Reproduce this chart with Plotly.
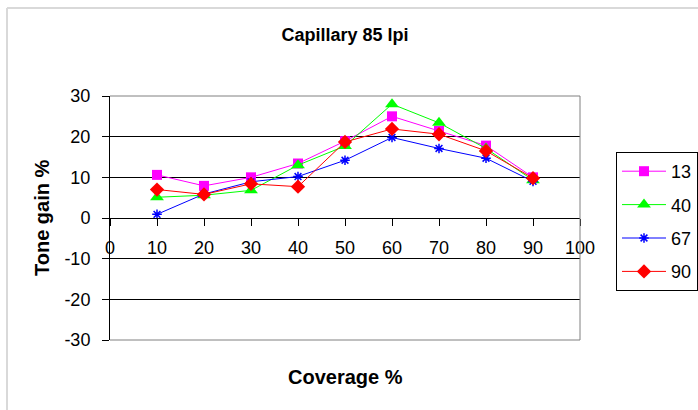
import plotly.graph_objects as go

coverage = [10, 20, 30, 40, 50, 60, 70, 80, 90]
series_names = ["13", "40", "67", "90"]
s13 = [10.6, 7.9, 10.0, 13.4, 18.9, 25.0, 21.4, 17.8, 10.0]
s40 = [5.1, 5.6, 6.8, 13.0, 17.7, 28.0, 23.4, 17.1, 9.3]
s67 = [0.9, 5.9, 8.9, 10.2, 14.2, 19.8, 17.1, 14.7, 9.0]
s90 = [7.0, 5.8, 8.4, 7.7, 18.7, 21.9, 20.6, 16.5, 9.8]
x_ticks = [0, 10, 20, 30, 40, 50, 60, 70, 80, 90, 100]
y_ticks = [-30, -20, -10, 0, 10, 20, 30]

colors = ["#ff00ff", "#00ff00", "#0000ff", "#ff0000"]
symbols = ["square", "triangle-up", "asterisk", "diamond"]
sizes = [10, 12, 8, 11]
values = [s13, s40, s67, s90]

FONT = "Liberation Sans, Arial, sans-serif"

W, H = 698, 410
L, R, T, B = 110, 580, 96, 340  # plot area in pixels

fig = go.Figure()
for name, vals, c, sym, sz in zip(series_names, values, colors, symbols, sizes):
    marker = dict(symbol=sym, size=sz, color=c)
    if sym == "asterisk":
        marker["line"] = dict(color=c, width=1.5)
    fig.add_trace(go.Scatter(
        x=coverage, y=vals, name=name, legendgroup=name,
        mode="lines+markers",
        line=dict(color=c, width=1),
        marker=marker,
    ))

pw, ph = R - L, B - T

fig.update_layout(
    width=W, height=H,
    margin=dict(l=L, r=W - R, t=T, b=H - B, autoexpand=False),
    paper_bgcolor="white", plot_bgcolor="white",
    font=dict(family=FONT, color="black", size=18),
    title=dict(text="<b>Capillary 85 lpi</b>", x=0.5, xref="paper",
               y=1 - 35 / H, yref="container", yanchor="middle",
               font=dict(size=18, family=FONT, color="black")),
    showlegend=True,
    legend=dict(
        xref="container", yref="container",
        x=616 / W, xanchor="left",
        y=1 - 152 / H, yanchor="top",
        bgcolor="white", bordercolor="black", borderwidth=1,
        font=dict(size=18, family=FONT, color="black"),
        traceorder="grouped", tracegroupgap=7, itemwidth=44,
    ),
    xaxis=dict(
        range=[0, 100], tickmode="array", tickvals=x_ticks,
        ticktext=[str(v) for v in x_ticks],
        anchor="free", position=0.5,
        showline=True, linecolor="black", linewidth=1,
        ticks="outside", ticklen=7, tickcolor="black",
        ticklabelstandoff=6,
        showgrid=False, zeroline=False,
        tickfont=dict(size=18, family=FONT, color="black"),
    ),
    yaxis=dict(
        range=[-30, 30], tickmode="array", tickvals=y_ticks,
        ticktext=[str(v) for v in y_ticks],
        showline=True, linecolor="black", linewidth=1,
        ticks="outside", ticklen=7, tickcolor="black",
        ticklabelstandoff=8,
        showgrid=True, gridcolor="black", gridwidth=1,
        zeroline=False,
        tickfont=dict(size=18, family=FONT, color="black"),
    ),
    annotations=[
        dict(text="<b>Coverage %</b>", xref="paper", yref="paper",
             x=0.5, y=-(377 - B) / ph, xanchor="center", yanchor="middle",
             showarrow=False, font=dict(size=20, family=FONT, color="black")),
        dict(text="<b>Tone gain %</b>", xref="paper", yref="paper",
             x=(42 - L) / pw, y=0.5, xanchor="center", yanchor="middle",
             textangle=-90, showarrow=False,
             font=dict(size=20, family=FONT, color="black")),
    ],
    shapes=[
        dict(type="line", xref="paper", yref="paper", x0=0, x1=1, y0=1, y1=1,
             line=dict(color="#808080", width=1)),
        dict(type="line", xref="paper", yref="paper", x0=1, x1=1, y0=0, y1=1,
             line=dict(color="#808080", width=1)),
        dict(type="line", xref="paper", yref="paper", x0=0, x1=1, y0=0, y1=0,
             line=dict(color="#808080", width=1)),
        dict(type="line", xref="paper", yref="paper",
             x0=(7 - L) / pw, x1=(7 - L) / pw,
             y0=(B - 8) / ph, y1=(B - 420) / ph,
             line=dict(color="#d9d9d9", width=2)),
        dict(type="line", xref="paper", yref="paper",
             x0=(7 - L) / pw, x1=(710 - L) / pw,
             y0=(B - 8) / ph, y1=(B - 8) / ph,
             line=dict(color="#d9d9d9", width=2)),
    ],
)

fig.write_html("out.html", config={"displayModeBar": False},
               post_script="document.body.style.margin='0px';")
